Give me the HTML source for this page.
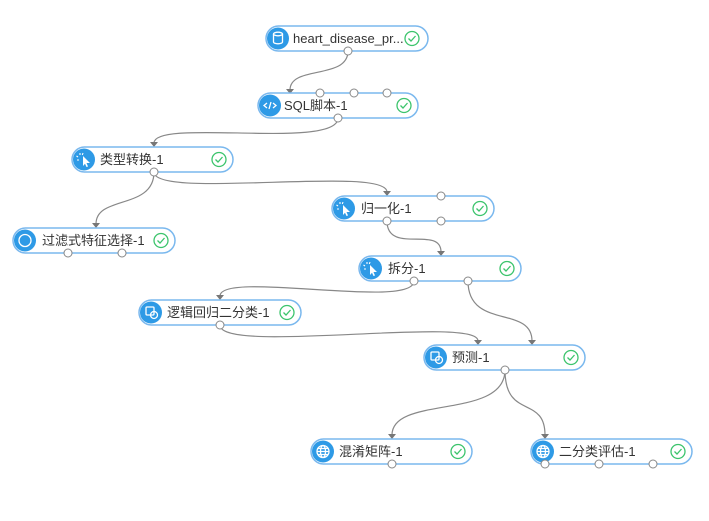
<!DOCTYPE html>
<html><head><meta charset="utf-8"><style>
html,body{margin:0;padding:0;background:#fff;}
svg{display:block;}
text{font-family:"Liberation Sans","Noto Sans CJK SC",sans-serif;font-size:13px;fill:#333;}
</style></head><body>
<svg width="709" height="521" viewBox="0 0 709 521" xmlns="http://www.w3.org/2000/svg">
<g fill="none" stroke="#888" stroke-width="1.2">
<path d="M348,51 C348,80 290,65 290,90"/>
<path d="M338,118 C338,150 154,118 154,143"/>
<path d="M154,172 C154,210 96,195 96,224"/>
<path d="M154,172 C154,200 387,165 387,192"/>
<path d="M387,221 C387,255 441,225 441,252"/>
<path d="M414,281 C414,310 220,270 220,296"/>
<path d="M220,325 C220,355 478,315 478,341"/>
<path d="M468,281 C468,330 532,305 532,341"/>
<path d="M505,370 C505,420 392,395 392,435"/>
<path d="M505,370 C505,420 545,395 545,435"/>
</g>
<g fill="#777">
<path d="M286,89 h8 l-4,5 z"/>
<path d="M150,142 h8 l-4,5 z"/>
<path d="M92,223 h8 l-4,5 z"/>
<path d="M383,191 h8 l-4,5 z"/>
<path d="M437,251 h8 l-4,5 z"/>
<path d="M216,295 h8 l-4,5 z"/>
<path d="M474,340 h8 l-4,5 z"/>
<path d="M528,340 h8 l-4,5 z"/>
<path d="M388,434 h8 l-4,5 z"/>
<path d="M541,434 h8 l-4,5 z"/>
</g>
<g fill="#fff" stroke="#7ab8ee" stroke-width="1.5">
<rect x="266" y="26" width="162" height="25" rx="12.5"/>
<rect x="258" y="93" width="160" height="25" rx="12.5"/>
<rect x="72" y="147" width="161" height="25" rx="12.5"/>
<rect x="13" y="228" width="162" height="25" rx="12.5"/>
<rect x="332" y="196" width="162" height="25" rx="12.5"/>
<rect x="359" y="256" width="162" height="25" rx="12.5"/>
<rect x="139" y="300" width="162" height="25" rx="12.5"/>
<rect x="424" y="345" width="161" height="25" rx="12.5"/>
<rect x="311" y="439" width="161" height="25" rx="12.5"/>
<rect x="531" y="439" width="161" height="25" rx="12.5"/>
</g>
<g fill="#2e9ae6">
<circle cx="278" cy="38.5" r="11"/>
<circle cx="270" cy="105.5" r="11"/>
<circle cx="84" cy="159.5" r="11"/>
<circle cx="25" cy="240.5" r="11"/>
<circle cx="344" cy="208.5" r="11"/>
<circle cx="371" cy="268.5" r="11"/>
<circle cx="151" cy="312.5" r="11"/>
<circle cx="436" cy="357.5" r="11"/>
<circle cx="323" cy="451.5" r="11"/>
<circle cx="543" cy="451.5" r="11"/>
</g>
<text x="293" y="43">heart_disease_pr...</text>
<text x="284" y="110">SQL脚本-1</text>
<text x="100" y="164">类型转换-1</text>
<text x="42" y="245">过滤式特征选择-1</text>
<text x="361" y="213">归一化-1</text>
<text x="388" y="273">拆分-1</text>
<text x="167" y="317">逻辑回归二分类-1</text>
<text x="452" y="362">预测-1</text>
<text x="339" y="456">混淆矩阵-1</text>
<text x="559" y="456">二分类评估-1</text>
<g fill="none" stroke="#fff" stroke-width="1.3">
<ellipse cx="278" cy="34" rx="4.5" ry="1.8"/><path d="M273.5,34 V42 A4.5,1.8 0 0 0 282.5,42 V34"/>
<path d="M267,103 L264,105.5 L267,108 M273,103 L276,105.5 L273,108 M271,102 L269,109"/>
<circle cx="25" cy="240.5" r="6"/>
<rect x="146" y="307" width="8" height="8" rx="1"/><circle cx="154" cy="315" r="3.5"/>
<rect x="431" y="352" width="8" height="8" rx="1"/><circle cx="439" cy="360" r="3.5"/>
<circle cx="323" cy="451.5" r="6"/><ellipse cx="323" cy="451.5" rx="2.5" ry="6"/><path d="M317,451.5 H329 M318,448.5 H328 M318,454.5 H328"/>
<circle cx="543" cy="451.5" r="6"/><ellipse cx="543" cy="451.5" rx="2.5" ry="6"/><path d="M537,451.5 H549 M538,448.5 H548 M538,454.5 H548"/>
</g>
<g fill="#fff">
<path d="M83,156 L90,163 L86.5,163 L88,166.5 L86.5,167 L85,163.7 L83,166 z"/>
<path d="M343,205 L350,212 L346.5,212 L348,215.5 L346.5,216 L345,212.7 L343,215 z"/>
<path d="M370,265 L377,272 L373.5,272 L375,275.5 L373.5,276 L372,272.7 L370,275 z"/>
</g>
<g stroke="#fff" stroke-width="1.1">
<path d="M80,153 V155 M76.5,156 L78,157 M77,160 H79 M83,153 L82.3,155"/>
<path d="M340,202 V204 M336.5,205 L338,206 M337,209 H339 M343,202 L342.3,204"/>
<path d="M367,262 V264 M363.5,265 L365,266 M364,269 H366 M370,262 L369.3,264"/>
</g>
<g fill="none" stroke="#3cc46c" stroke-width="1.3">
<circle cx="412" cy="38.5" r="7"/><path d="M408.5,38.5 L411,41 L415.5,36"/>
<circle cx="404" cy="105.5" r="7"/><path d="M400.5,105.5 L403,108 L407.5,103"/>
<circle cx="219" cy="159.5" r="7"/><path d="M215.5,159.5 L218,162 L222.5,157"/>
<circle cx="161" cy="240.5" r="7"/><path d="M157.5,240.5 L160,243 L164.5,238"/>
<circle cx="480" cy="208.5" r="7"/><path d="M476.5,208.5 L479,211 L483.5,206"/>
<circle cx="507" cy="268.5" r="7"/><path d="M503.5,268.5 L506,271 L510.5,266"/>
<circle cx="287" cy="312.5" r="7"/><path d="M283.5,312.5 L286,315 L290.5,310"/>
<circle cx="571" cy="357.5" r="7"/><path d="M567.5,357.5 L570,360 L574.5,355"/>
<circle cx="458" cy="451.5" r="7"/><path d="M454.5,451.5 L457,454 L461.5,449"/>
<circle cx="678" cy="451.5" r="7"/><path d="M674.5,451.5 L677,454 L681.5,449"/>
</g>
<g fill="#fff" stroke="#888" stroke-width="1">
<circle cx="348" cy="51" r="4"/>
<circle cx="320" cy="93" r="4"/><circle cx="354" cy="93" r="4"/><circle cx="387" cy="93" r="4"/>
<circle cx="338" cy="118" r="4"/>
<circle cx="154" cy="172" r="4"/>
<circle cx="68" cy="253" r="4"/><circle cx="122" cy="253" r="4"/>
<circle cx="441" cy="196" r="4"/>
<circle cx="387" cy="221" r="4"/><circle cx="441" cy="221" r="4"/>
<circle cx="414" cy="281" r="4"/><circle cx="468" cy="281" r="4"/>
<circle cx="220" cy="325" r="4"/>
<circle cx="505" cy="370" r="4"/>
<circle cx="392" cy="464" r="4"/>
<circle cx="545" cy="464" r="4"/><circle cx="599" cy="464" r="4"/><circle cx="653" cy="464" r="4"/>
</g>
</svg>
</body></html>
